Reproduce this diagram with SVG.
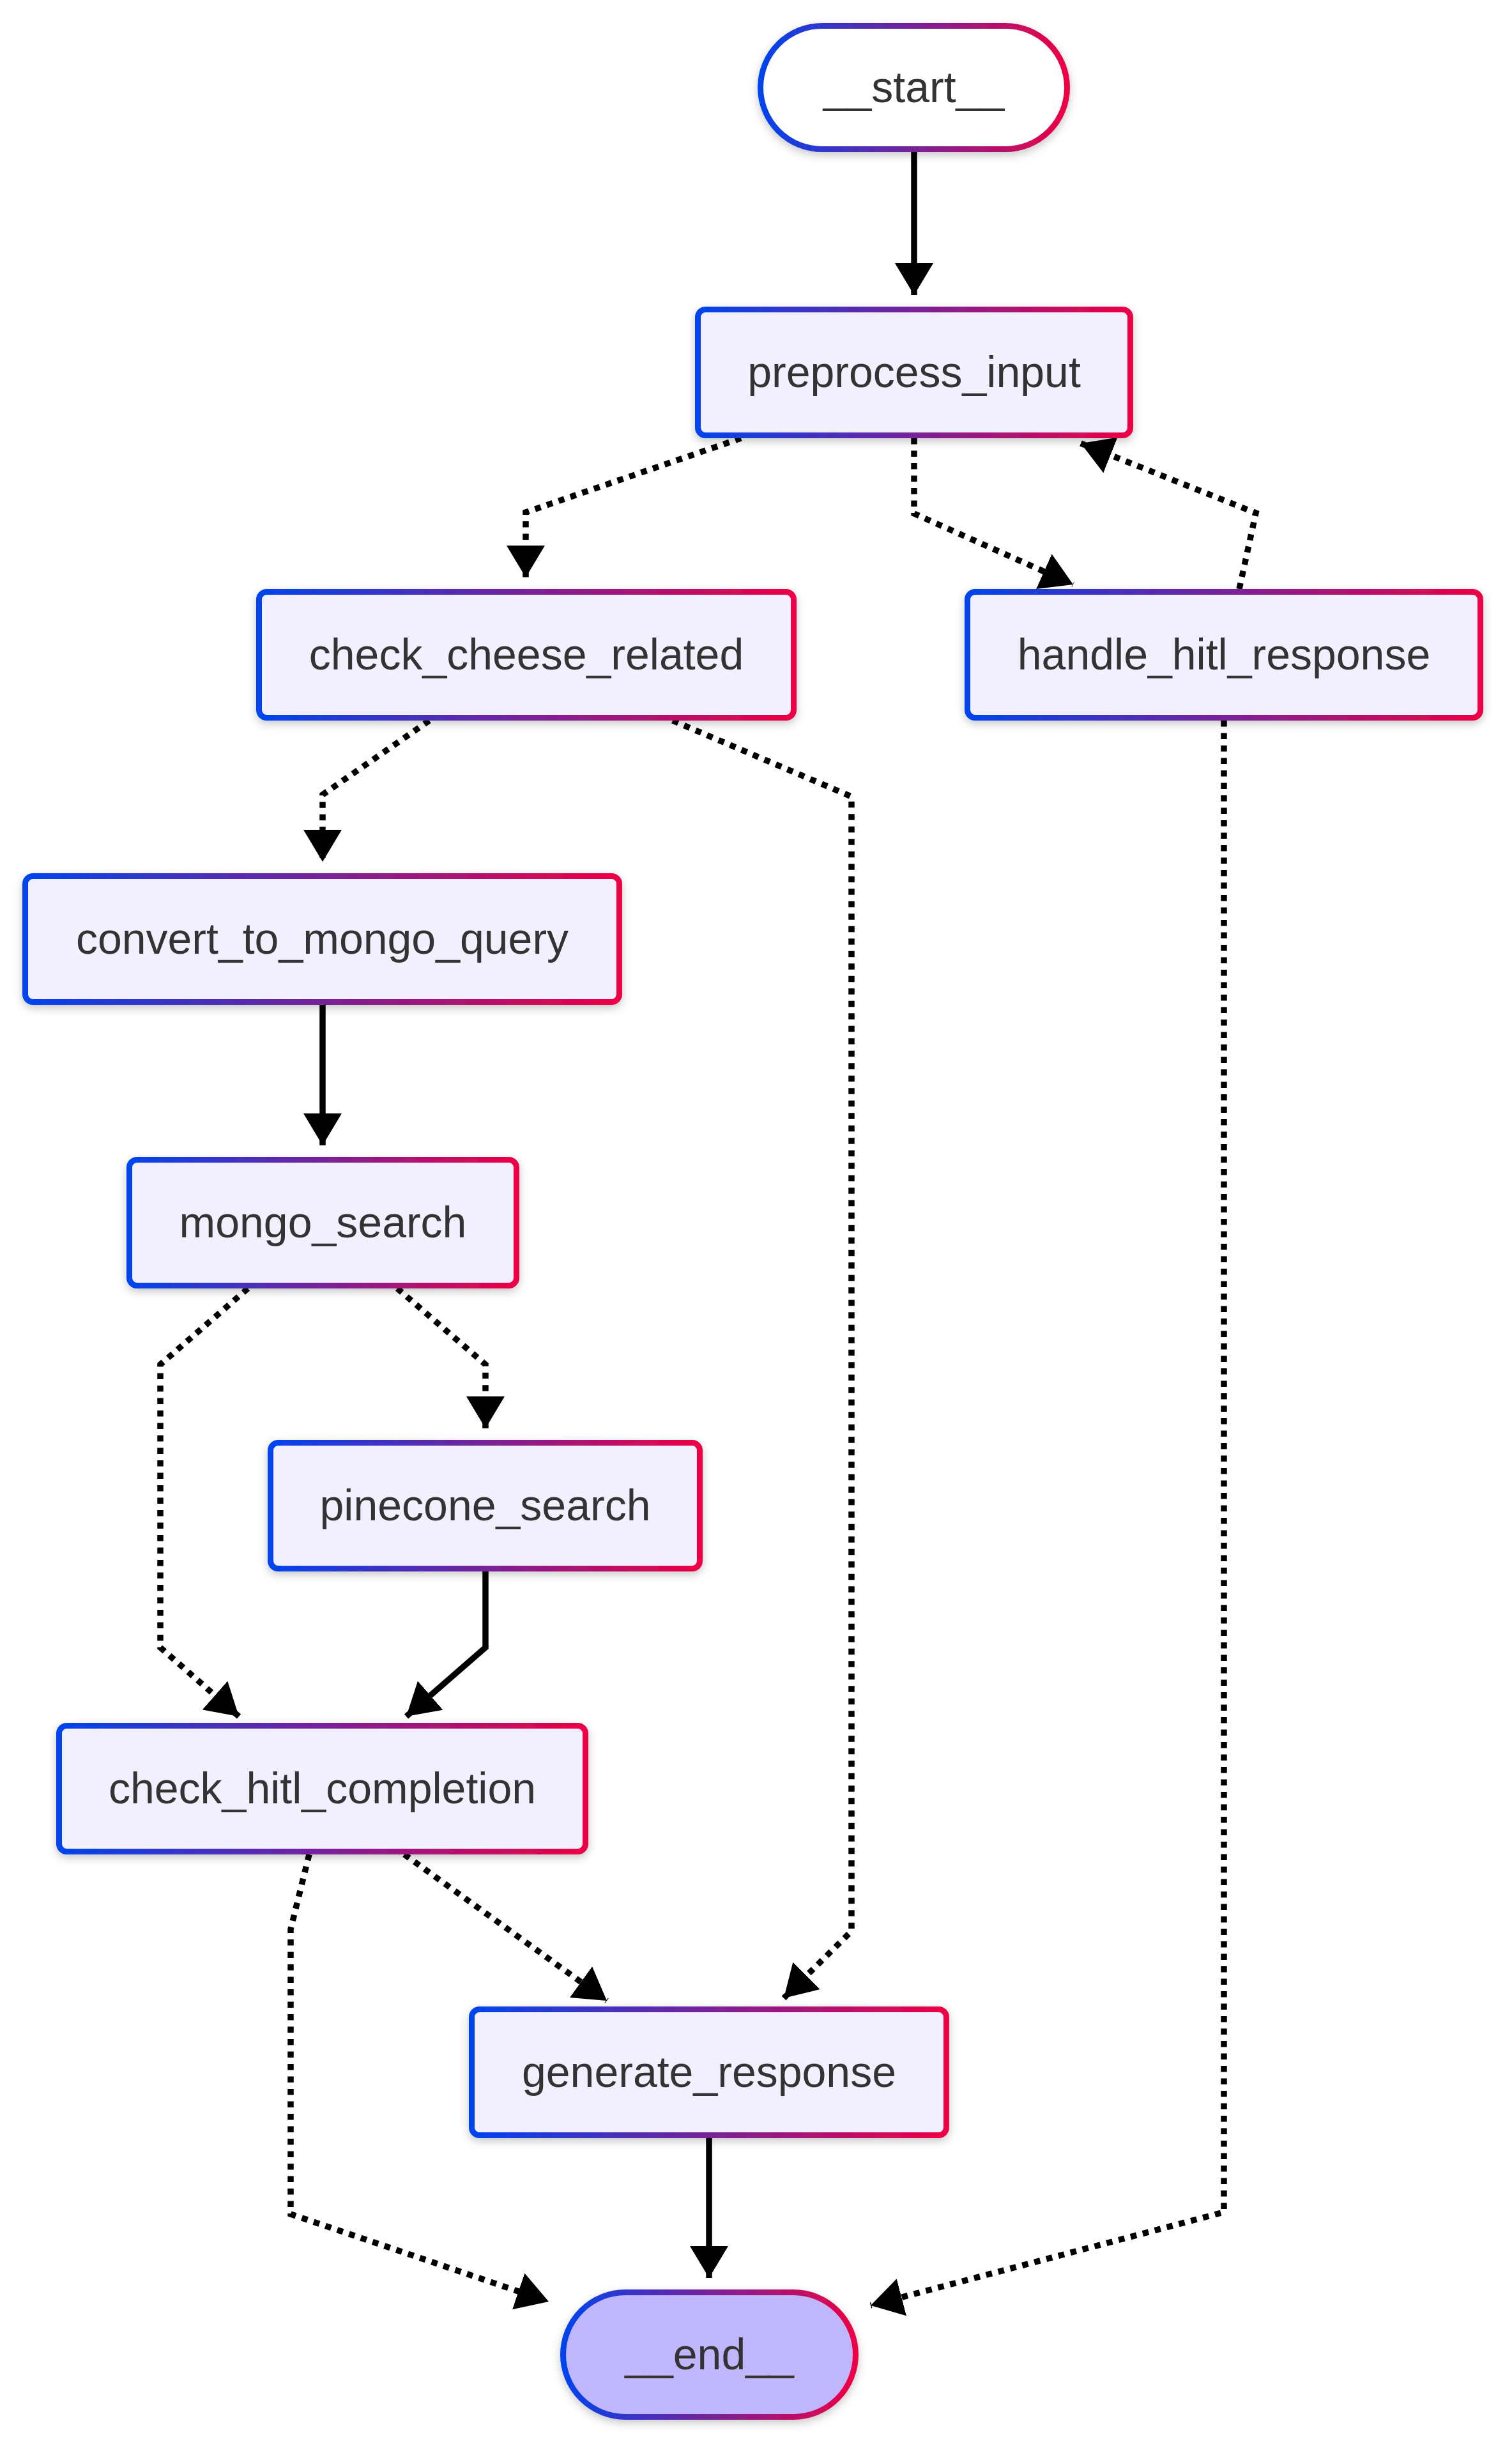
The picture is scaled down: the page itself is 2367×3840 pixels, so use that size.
<svg xmlns="http://www.w3.org/2000/svg" width="2367" height="3840" viewBox="0 0 2367 3840">
<defs>
<linearGradient id="bd" x1="0" y1="0" x2="1" y2="0">
<stop offset="0" stop-color="#0044ee"/>
<stop offset="0.5" stop-color="#772299"/>
<stop offset="1" stop-color="#ee0044"/>
</linearGradient>
<filter id="sh" x="-10%" y="-20%" width="120%" height="150%">
<feDropShadow dx="0" dy="5" stdDeviation="7" flood-color="#000" flood-opacity="0.22"/>
</filter>
<marker id="ah" markerUnits="userSpaceOnUse" markerWidth="50" markerHeight="60" viewBox="0 0 50 60" refX="50" refY="30" orient="auto">
<path d="M0,0 L50,30 L0,60 Z" fill="#000"/>
</marker>
<style>
.e{fill:none;stroke:#000;stroke-width:9.5;marker-end:url(#ah)}
.d{stroke-dasharray:9.5 10}
.n{stroke:url(#bd);stroke-width:9;fill:#f2f0ff;filter:url(#sh)}
.t{font-family:"Liberation Sans",Arial,sans-serif;font-size:68px;fill:#333;text-anchor:middle}
</style>
</defs>
<rect width="2367" height="3840" fill="#fff"/>
<g id="edges">
<path class="e" d="M1431,238 V462"/>
<path class="e d" d="M1160,686 L823,802 V904"/>
<path class="e d" d="M1431,686 V804 L1680,915"/>
<path class="e d" d="M1940,922 L1966,803 L1692,694"/>
<path class="e d" d="M672,1128 L505,1244 V1349"/>
<path class="e d" d="M1053,1128 L1333,1247 V3023 L1227,3128"/>
<path class="e" d="M505,1573 V1793"/>
<path class="e d" d="M622,2017 L760,2136 V2236"/>
<path class="e d" d="M388,2017 L251,2136 V2579 L374,2687"/>
<path class="e" d="M760,2460 V2579 L636,2687"/>
<path class="e d" d="M484,2903 L455,3020 V3466 L859,3603"/>
<path class="e d" d="M633,2903 L950,3132"/>
<path class="e" d="M1110,3347 V3566"/>
<path class="e d" d="M1916,1128 V3463 L1363,3609"/>
</g>
<g id="node-start"><rect class="n" x="1190.5" y="40.5" width="480" height="193" rx="96.5" style="fill:#fff"/><text class="t" x="1430.5" y="160">__start__</text></g>
<g id="node-preprocess_input"><rect class="n" x="1092.5" y="484.5" width="677" height="197" rx="12"/><text class="t" x="1431" y="606">preprocess_input</text></g>
<g id="node-check_cheese_related"><rect class="n" x="405.5" y="926.5" width="837" height="197" rx="12"/><text class="t" x="824" y="1048">check_cheese_related</text></g>
<g id="node-handle_hitl_response"><rect class="n" x="1514.5" y="926.5" width="803" height="197" rx="12"/><text class="t" x="1916" y="1048">handle_hitl_response</text></g>
<g id="node-convert_to_mongo_query"><rect class="n" x="39.5" y="1371.5" width="930" height="197" rx="12"/><text class="t" x="504.5" y="1493">convert_to_mongo_query</text></g>
<g id="node-mongo_search"><rect class="n" x="202.5" y="1815.5" width="606" height="197" rx="12"/><text class="t" x="505.5" y="1937">mongo_search</text></g>
<g id="node-pinecone_search"><rect class="n" x="423.5" y="2258.5" width="672" height="197" rx="12"/><text class="t" x="759.5" y="2380">pinecone_search</text></g>
<g id="node-check_hitl_completion"><rect class="n" x="92.5" y="2701.5" width="824" height="197" rx="12"/><text class="t" x="504.5" y="2823">check_hitl_completion</text></g>
<g id="node-generate_response"><rect class="n" x="738.5" y="3145.5" width="743" height="197" rx="12"/><text class="t" x="1110" y="3267">generate_response</text></g>
<g id="node-end"><rect class="n" x="881.5" y="3588.5" width="458" height="195" rx="97.5" style="fill:#bfb6fc"/><text class="t" x="1110.5" y="3709">__end__</text></g>
</svg>
